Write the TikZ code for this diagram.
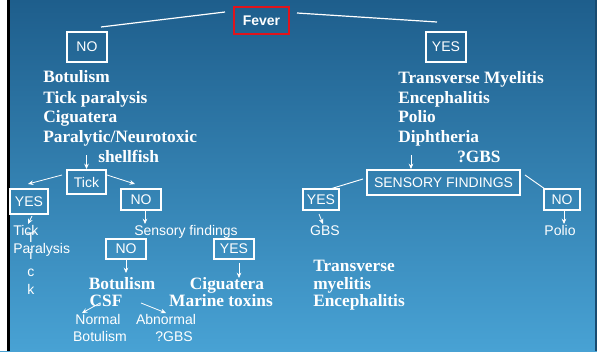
\documentclass[tikz,border=0pt]{standalone}
\usepackage{fontspec}
\setmainfont{Liberation Serif}
\setsansfont{Liberation Sans}
\usetikzlibrary{arrows.meta}
\definecolor{bgtop}{RGB}{30,94,140}
\definecolor{bgbot}{RGB}{72,162,212}
\definecolor{feverred}{RGB}{225,20,28}
\newcommand\mySerif{\fontsize{13}{15}\selectfont\rmfamily\bfseries}
\newcommand\mySans{\fontsize{10.5}{12}\selectfont\sffamily}
\begin{document}
\begin{tikzpicture}[x=0.75pt,y=-0.75pt,
  box/.style={draw=white, line width=1.5pt, text=white, font=\mySans, inner sep=0pt},
  stxt/.style={text=white, font=\mySans, inner sep=0pt, text height=7.5pt, text depth=2pt},
  btxt/.style={text=white, font=\mySerif, inner sep=0pt, text height=9pt, text depth=3pt},
  arr/.style={draw=white, line width=0.6pt, -{Stealth[length=4pt,width=3.5pt]}},
  ln/.style={draw=white, line width=0.9pt}]
\useasboundingbox (0,0) rectangle (597,351);
\shade[top color=bgtop, bottom color=bgbot] (0,0) rectangle (597,351);
\fill[white] (0,0) rectangle (7,351);
\fill[black] (7,0) rectangle (9.5,351);
\fill[bgtop!80!black] (595,0) rectangle (597,351);

% top
\node[box, draw=feverred, line width=1.9pt, font=\mySans\bfseries, minimum width=41.25pt, minimum height=20.25pt] (fever) at (261.5,20.5) {Fever};
\node[box, minimum width=30pt, minimum height=22.5pt] (no1) at (87,47) {NO};
\node[box, minimum width=30pt, minimum height=22.5pt] (yes1) at (446,47) {YES};
\coordinate (fl1) at (101,27); \coordinate (fl2) at (225,12);
\coordinate (fr1) at (297,13); \coordinate (fr2) at (437,22);
\draw[ln] (fl1) -- (fl2);
\draw[ln] (fr1) -- (fr2);

% left list
\node[btxt, anchor=west] (l1) at (43,78) {Botulism};
\node[btxt, anchor=west] (l2) at (43,99) {Tick paralysis};
\node[btxt, anchor=west] (l3) at (43,118) {Ciguatera};
\node[btxt, anchor=west] (l4) at (43,138) {Paralytic/Neurotoxic};
\node[btxt, anchor=west] (l5) at (98,158) {shellfish};

% right list
\node[btxt, anchor=west] (r1) at (398,79) {Transverse Myelitis};
\node[btxt, anchor=west] (r2) at (398,99) {Encephalitis};
\node[btxt, anchor=west] (r3) at (398,118) {Polio};
\node[btxt, anchor=west] (r4) at (398,138) {Diphtheria};
\node[btxt, anchor=west] (r5) at (457,158) {?GBS};

% left subtree
\node[box, minimum width=29.25pt, minimum height=18pt] (tick) at (86.5,182) {Tick};
\node[box, minimum width=28.5pt, minimum height=18.75pt] (yesA) at (29,201.5) {YES};
\node[box, minimum width=30pt, minimum height=15.75pt] (noA) at (141,199.5) {NO};
\coordinate (a0) at (86.5,155);
\draw[arr] (a0) -- (tick.north);
\coordinate (a1) at (62,175); \coordinate (a2) at (28,184);
\draw[arr] (a1) -- (a2);
\coordinate (a3) at (107,175); \coordinate (a4) at (135,184);
\draw[arr] (a3) -- (a4);

\node[stxt, anchor=west] (tp1) at (13,232) {Tick};
\node[stxt, anchor=west] (tp2) at (13,250) {Paralysis};
\node[stxt] (v1) at (31,239) {T};
\node[stxt] (v2) at (31,256) {i};
\node[stxt] (v3) at (31,273) {c};
\node[stxt] (v4) at (31,291) {k};
\coordinate (a5) at (32,216); \coordinate (a6) at (28,224);
\draw[arr] (a5) -- (a6);

\coordinate (a7) at (145,210); \coordinate (a8) at (145,224);
\draw[arr] (a7) -- (a8);
\node[stxt] (sens) at (186,232) {Sensory findings};
\node[box, minimum width=30pt, minimum height=15pt] (noB) at (126,249) {NO};
\node[box, minimum width=30pt, minimum height=15pt] (yesB) at (234,249) {YES};
\coordinate (a9) at (126,259); \coordinate (a10) at (126,273);
\draw[arr] (a9) -- (a10);
\coordinate (a11) at (239,263); \coordinate (a12) at (239,278);
\draw[arr] (a11) -- (a12);

\node[btxt] (bot) at (122,285) {Botulism};
\node[btxt] (csf) at (106,302) {CSF};
\node[btxt] (cig) at (227,285) {Ciguatera};
\node[btxt] (mar) at (221,302) {Marine toxins};
\coordinate (a13) at (100,303); \coordinate (a14) at (82,313);
\draw[arr] (a13) -- (a14);
\coordinate (a15) at (141,303); \coordinate (a16) at (166,313);
\draw[arr] (a15) -- (a16);
\node[stxt] (nor) at (98,321) {Normal};
\node[stxt] (nbot) at (100,338) {Botulism};
\node[stxt] (abn) at (166,321) {Abnormal};
\node[stxt] (agbs) at (174,338) {?GBS};

% right subtree
\node[box, minimum width=114.75pt, minimum height=18.75pt] (sf) at (443.5,182.5) {SENSORY FINDINGS};
\coordinate (b0) at (411,155);
\draw[arr] (b0) -- (sf.north -| b0);
\node[box, minimum width=27pt, minimum height=15.75pt] (yesC) at (321,199.5) {YES};
\node[box, minimum width=27pt, minimum height=15.75pt] (noC) at (562,199.5) {NO};
\coordinate (b1) at (363,179); \coordinate (b2) at (330,189);
\draw[ln, line width=0.7pt] (b1) -- (b2);
\coordinate (b3) at (525,175); \coordinate (b4) at (545,189);
\draw[ln, line width=0.7pt] (b3) -- (b4);
\coordinate (b5) at (319,214); \coordinate (b6) at (323,224);
\draw[arr] (b5) -- (b6);
\coordinate (b7) at (564,210); \coordinate (b8) at (564,224);
\draw[arr] (b7) -- (b8);
\node[stxt] (gbs) at (325,232) {GBS};
\node[stxt] (pol) at (560,232) {Polio};

\node[btxt, anchor=west] (t1) at (313,267) {Transverse};
\node[btxt, anchor=west] (t2) at (313,285) {myelitis};
\node[btxt, anchor=west] (t3) at (313,302) {Encephalitis};
\end{tikzpicture}
\end{document}
